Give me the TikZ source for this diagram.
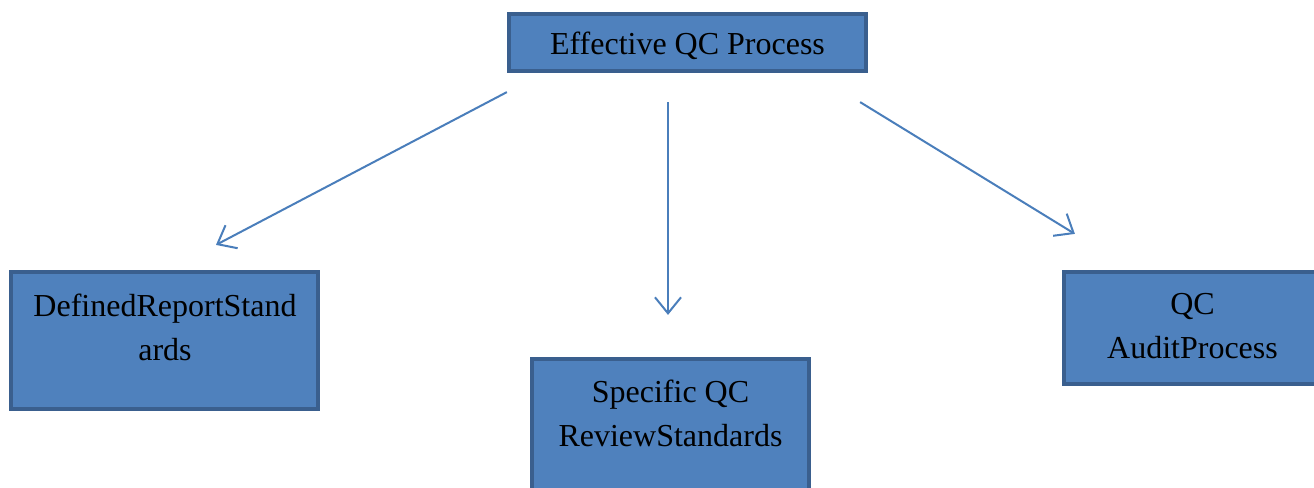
\documentclass[tikz,border=0pt]{standalone}
\usepackage{fontspec}
\setmainfont{Liberation Serif}
\usetikzlibrary{arrows.meta}
\definecolor{boxfill}{HTML}{4F81BD}
\definecolor{boxline}{HTML}{3A5F8E}
\definecolor{arrowc}{HTML}{4A7EBB}
\tikzset{
  box/.style={draw=boxline, fill=boxfill, line width=2.1pt, inner sep=0pt},
  lbl/.style={align=center, font=\fontsize{16}{22}\selectfont, text=black, inner sep=0pt},
  conn/.style={draw=arrowc, line width=1pt, -{Straight Barb[length=8pt,width=13pt,line width=1pt]}}
}
\begin{document}
\begin{tikzpicture}[x=0.5pt,y=-0.5pt]
\useasboundingbox (0,0) rectangle (1314,488);
\clip (0,0) rectangle (1314,488);
\node[box, minimum width=178.5pt, minimum height=28.5pt] (top) at (687.5,42.5) {};
\node[box, minimum width=153.5pt, minimum height=68.5pt] (left) at (164.5,340.5) {};
\node[box, minimum width=138.5pt, minimum height=70pt] (mid) at (670.5,429) {};
\node[box, minimum width=128.5pt, minimum height=56pt] (right) at (1192.5,328) {};
\node[lbl] (toptext) at (687.5,46) {Effective QC Process};
\node[lbl] (lefttext) at (165,327) {DefinedReportStand\\ards};
\node[lbl] (midtext) at (670.5,413.5) {Specific QC\\ReviewStandards};
\node[lbl] (righttext) at (1192.5,326) {QC\\AuditProcess};
\draw[conn] ([shift={(0,19)}]top.south west) -- ([shift={(51.5,-25)}]left.north);
\draw[conn] ([shift={(-19.5,29)}]top.south) -- ([shift={(-2.5,-42)}]mid.north);
\draw[conn] ([shift={(-8,29)}]top.south east) -- ([shift={(13,-36)}]right.north west);
\end{tikzpicture}
\end{document}
